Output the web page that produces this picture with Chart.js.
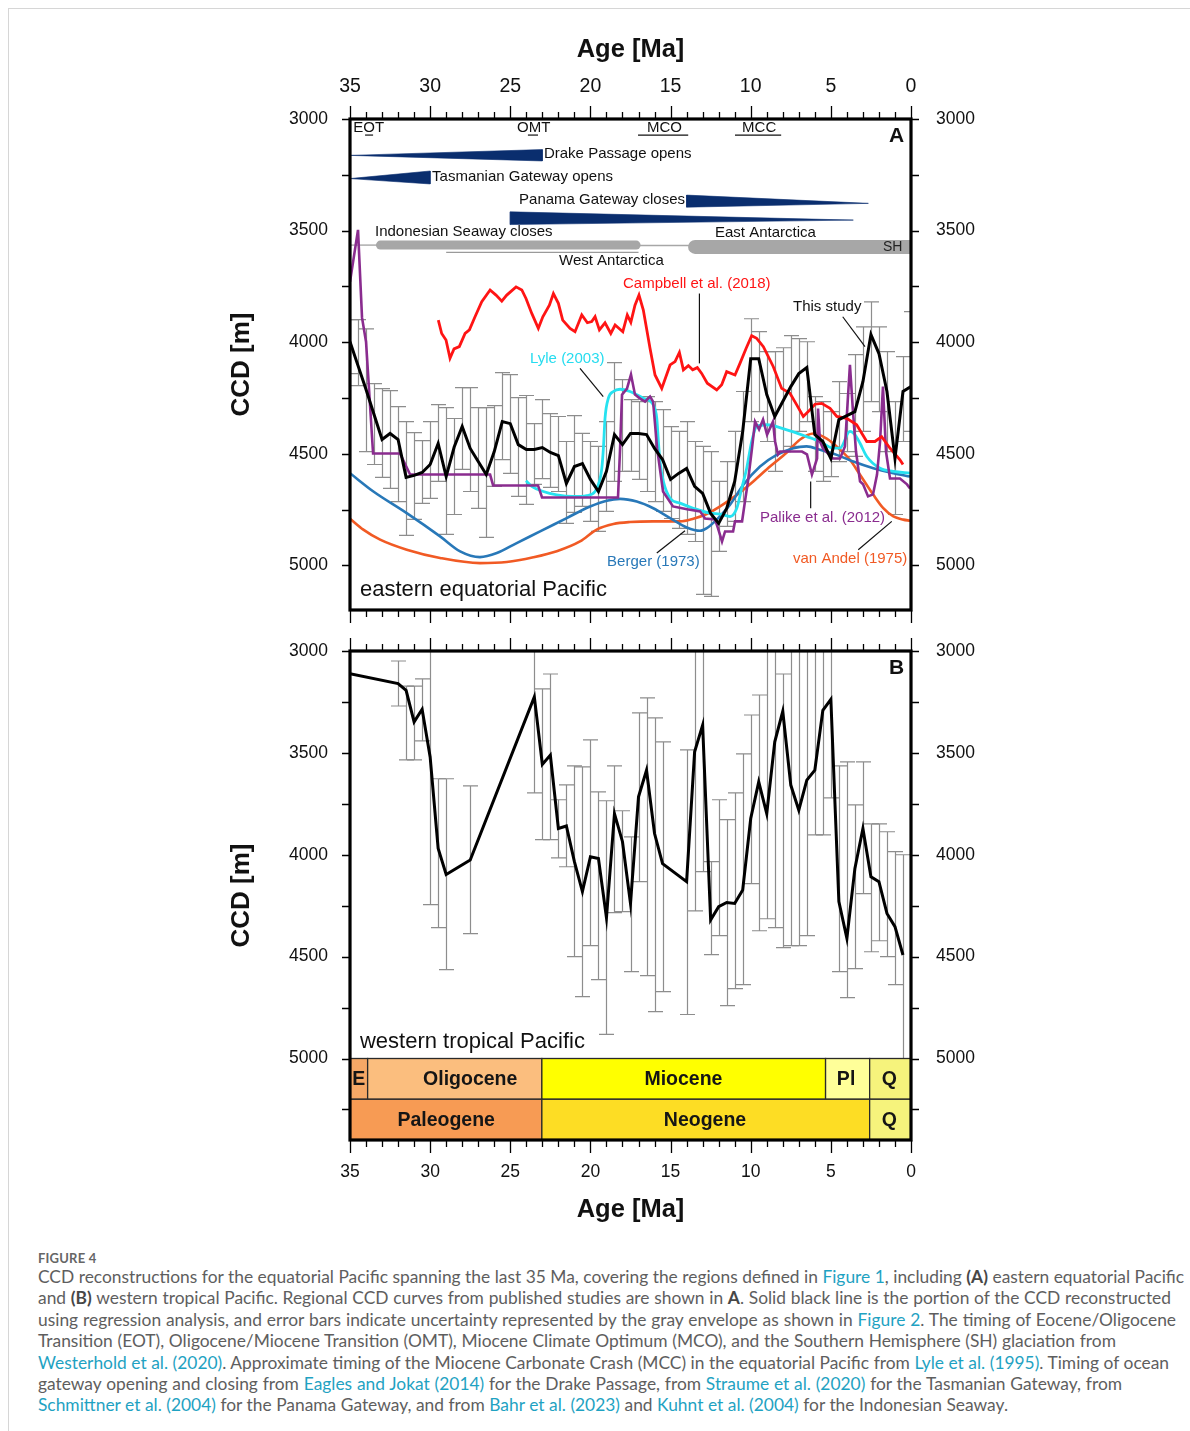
<!DOCTYPE html>
<html lang="en">
<head>
<meta charset="utf-8">
<title>CCD reconstructions, equatorial Pacific</title>
<script src="https://cdn.jsdelivr.net/npm/chart.js@4.4.1/dist/chart.umd.min.js"></script>
<style>
  html, body { margin: 0; padding: 0; background: #fff; }
  body { position: relative; width: 1190px; height: 1431px; overflow: hidden; }
  .sheet { position: absolute; left: 8px; top: 8px; width: 1200px; height: 1440px;
           border-left: 1px solid #d6d6d6; border-top: 1px solid #d6d6d6; }
  canvas { position: absolute; left: 0; }
  #panelA { top: 2px; }
  #panelB { top: 611px; }
  .caption { position: absolute; left: 38px; top: 1250px; font-family: Lato, 'Open Sans', sans-serif; color: #5e5e5e; }
  .caption .fig { font-size: 13px; font-weight: 700; line-height: 16px; color: #666; letter-spacing: 0.2px; }
  .caption .ln { white-space: nowrap; width: max-content; font-size: 16px; line-height: 21.4px; }
  .caption a { color: #1fa2c2; text-decoration: none; }
  .caption b { font-weight: 700; color: #474747; }
</style>
</head>
<body>
<div class="sheet"></div>
<canvas id="panelA" width="1190" height="648"></canvas>
<canvas id="panelB" width="1190" height="631"></canvas>
<div class="caption">
  <div class="fig">FIGURE 4</div>
  <div class="ln">CCD reconstructions for the equatorial Pacific spanning the last 35 Ma, covering the regions defined in <a>Figure 1</a>, including <b>(A)</b> eastern equatorial Pacific</div>
  <div class="ln">and <b>(B)</b> western tropical Pacific. Regional CCD curves from published studies are shown in <b>A</b>. Solid black line is the portion of the CCD reconstructed</div>
  <div class="ln">using regression analysis, and error bars indicate uncertainty represented by the gray envelope as shown in <a>Figure 2</a>. The timing of Eocene/Oligocene</div>
  <div class="ln">Transition (EOT), Oligocene/Miocene Transition (OMT), Miocene Climate Optimum (MCO), and the Southern Hemisphere (SH) glaciation from</div>
  <div class="ln"><a>Westerhold et al. (2020)</a>. Approximate timing of the Miocene Carbonate Crash (MCC) in the equatorial Pacific from <a>Lyle et al. (1995)</a>. Timing of ocean</div>
  <div class="ln">gateway opening and closing from <a>Eagles and Jokat (2014)</a> for the Drake Passage, from <a>Straume et al. (2020)</a> for the Tasmanian Gateway, from</div>
  <div class="ln"><a>Schmittner et al. (2004)</a> for the Panama Gateway, and from <a>Bahr et al. (2023)</a> and <a>Kuhnt et al. (2004)</a> for the Indonesian Seaway.</div>
</div>
<script>
// axis labels
const ageTicks = [35, 30, 25, 20, 15, 10, 5, 0];
const ccdTicks = [3000, 3500, 4000, 4500, 5000];

// ---- A: eastern equatorial Pacific, this study (0.5 Ma steps) ----
const studyAgeA = [35,34.5,34,33.5,33,32.5,32,31.5,31,30.5,30,29.5,29,28.5,28,27.5,27,26.5,26,25.5,25,24.5,24,23.5,23,22.5,22,21.5,21,20.5,20,19.5,19,18.5,18,17.5,17,16.5,16,15.5,15,14.5,14,13.5,13,12.5,12,11.5,11,10.5,10,9.5,9,8.5,8,7.5,7,6.5,6,5.5,5,4.5,4,3.5,3,2.5,2,1.5,1,0.5,0];
const studyCcdA = [3998,4105,4212,4324,4436,4409,4436,4606,4597,4584,4548,4454,4602,4470,4378,4476,4535,4593,4490,4356,4365,4459,4481,4481,4472,4494,4508,4633,4557,4544,4615,4669,4579,4414,4459,4409,4409,4414,4476,4526,4615,4588,4566,4646,4678,4767,4812,4745,4624,4400,4074,4074,4235,4333,4266,4199,4141,4114,4414,4445,4521,4347,4329,4311,4177,3966,4051,4221,4521,4221,4199];
const studyUpperA = [3899,3899,3940,4186,4208,4217,4289,4356,4405,4441,4356,4280,4293,4342,4204,4204,4293,4293,4284,4136,4145,4248,4239,4365,4257,4320,4333,4445,4329,4409,4445,4467,4356,4092,4168,4257,4266,4244,4266,4302,4378,4400,4356,4445,4467,4490,4624,4535,4400,4221,3895,3953,4042,4042,4025,3971,3984,3998,4244,4266,4311,4177,4230,4056,3931,3819,3931,4042,4266,4065,3863];
const studyLowerA = [4141,4195,4490,4548,4606,4655,4714,4866,4794,4722,4700,4624,4861,4772,4570,4669,4745,4875,4646,4526,4588,4691,4727,4637,4611,4651,4669,4812,4763,4736,4803,4848,4758,4624,4579,4579,4615,4669,4714,4758,4790,4834,4861,4893,5130,5139,4937,4825,4803,4714,4356,4311,4445,4579,4490,4467,4400,4356,4579,4624,4602,4535,4490,4512,4400,4266,4311,4490,4772,4445,4400];

// published regional curves
const campbellAge = [29.49,29.28,29.01,28.76,28.51,28.18,27.82,27.55,27.2,26.78,26.26,25.89,25.53,25.22,24.64,24.28,24.02,23.66,23.25,22.97,22.56,22.31,22.0,21.73,21.27,20.96,20.54,20.19,19.92,19.71,19.44,19.09,18.73,18.46,17.98,17.7,17.48,17.22,16.97,16.7,16.28,15.97,15.55,15.03,14.72,14.45,14.2,13.89,13.62,13.33,13.06,12.71,12.12,11.81,11.5,10.98,10.67,10.29,9.94,9.63,9.21,8.59,8.07,7.55,7.13,6.72,6.41,5.99,5.57,5.05,4.63,4.01,3.39,2.76,2.25,1.83,1.31,0.69,0.5];
const campbellCcd = [3901,3961,3990,4072,4030,4020,3961,3945,3886,3819,3766,3789,3816,3789,3752,3766,3804,3871,3938,3886,3834,3782,3826,3901,3938,3953,3878,3913,3908,3886,3945,3913,3961,3923,3953,3878,3911,3834,3789,3856,4028,4147,4207,4102,4087,4046,4124,4105,4124,4114,4140,4184,4214,4191,4132,4147,4095,4028,3971,3983,4020,4110,4207,4229,4281,4333,4311,4278,4274,4296,4333,4341,4370,4445,4445,4423,4475,4527,4548];
const lyleAge = [24.02,23.66,22.94,22.1,21.07,20.23,19.71,19.44,19.29,19.19,19.09,18.88,18.57,18.15,17.53,16.7,16.08,15.86,15.76,15.66,15.45,15.03,14.41,13.58,12.54,11.91,11.29,10.87,10.56,10.25,9.94,9.63,9.0,7.75,6.51,5.68,4.85,4.43,3.81,3.49,3.18,2.76,1.93,1.1,0.06];
const lyleCcd = [4621,4646,4669,4684,4691,4687,4669,4624,4565,4475,4341,4251,4221,4211,4221,4251,4281,4341,4445,4535,4624,4699,4721,4744,4766,4770,4781,4744,4654,4565,4445,4378,4370,4393,4423,4445,4475,4475,4400,4415,4453,4512,4565,4579,4587];
const palikeAge = [35,34.5,34.25,34,33.56,31.88,31.25,26.26,26.07,23.27,23.02,18.28,18.15,18.03,17.72,17.47,17.22,16.9,16.59,16.28,16.09,15.84,15.47,14.85,13.97,13.16,12.85,12.23,12.04,11.79,11.6,11.1,10.98,10.54,10.36,10.17,9.92,9.73,9.48,9.23,8.98,8.61,8.48,8.3,8.17,6.8,6.49,6.18,5.86,5.8,5.68,5.49,4.87,4.43,4.12,3.81,3.62,3.43,3.18,2.99,2.68,2.37,2.12,1.93,1.75,1.56,1.31,0.69,0.25,0.06];
const palikeCcd = [3729,3497,3890,3998,4499,4499,4593,4593,4642,4642,4696,4696,4476,4235,4208,4145,4235,4253,4266,4244,4266,4476,4669,4736,4749,4758,4790,4794,4834,4893,4848,4848,4803,4803,4714,4624,4476,4356,4391,4347,4414,4356,4445,4503,4490,4490,4503,4593,4521,4297,4445,4476,4521,4521,4467,4101,4311,4490,4624,4637,4691,4682,4593,4445,4199,4490,4611,4611,4637,4655];
const bergerAge = [35,33.54,31.46,29.38,28.13,26.89,25.84,24.6,23.14,21.48,20.02,18.98,18.15,17.11,16.08,15.03,13.99,13.16,12.74,12.12,11.29,10.46,9.42,8.38,7.34,6.51,5.68,4.63,3.6,2.35,1.1,0.06];
const bergerCcd = [4587,4669,4766,4870,4937,4963,4945,4900,4848,4788,4736,4710,4702,4714,4744,4788,4830,4845,4833,4795,4728,4639,4557,4505,4475,4467,4482,4505,4535,4565,4587,4602];
const andelAge = [35,34.17,33.12,31.46,29.38,26.89,25.22,23.56,22.1,20.65,19.61,18.57,17.53,16.08,14.41,13.58,12.74,11.91,10.87,9.84,8.8,7.75,6.92,6.09,5.26,4.43,3.81,3.18,2.35,1.73,1.1,0.48,0.06];
const andelCcd = [4791,4840,4885,4930,4967,4990,4985,4964,4937,4893,4840,4815,4806,4803,4803,4791,4770,4736,4684,4624,4557,4494,4436,4409,4432,4481,4527,4594,4684,4744,4781,4795,4800];

// ocean gateways: narrow tip and wide end of each wedge
const gatewayTipAge = [35, 35, 2.66, 3.6];
const gatewayTipCcd = [3163, 3267, 3378, 3453];
const gatewayEndAge = [23, 30, 14, 25];
const gatewayEndTop = [3137, 3233, 3341, 3416];
const gatewayEndBottom = [3188, 3291, 3395, 3473];

// Antarctic ice: thin line, West Antarctica bar, gap, East Antarctica bar, lower line
const iceFrom = [35, 33.1, 17.15, 13.47, 29];
const iceTo = [33.1, 17.15, 13.47, 0, 17];
const iceCcd = [3565, 3565, 3567, 3573, 3598];

// ---- B: western tropical Pacific ----
const studyAgeB = [35,32,31.5,31,30.5,30,29.5,29,27.5,23.5,23,22.5,22,21.5,21,20.5,20,19.5,19,18.5,18,17.5,17,16.5,16,15.5,14,13.5,13,12.5,12,11.5,11,10.5,10,9.5,9,8.5,8,7.5,7,6.5,6,5.5,5,4.5,4,3.5,3,2.5,2,1.5,1,0.5];
const studyCcdB = [3111,3160,3193,3348,3286,3520,3969,4097,4026,3225,3557,3511,3871,3859,4034,4181,4010,4018,4309,3798,3936,4239,3716,3585,3896,4044,4132,3495,3364,4320,4255,4234,4239,4173,3822,3642,3798,3446,3296,3658,3781,3634,3585,3291,3237,4230,4410,4067,3871,4108,4132,4288,4353,4492];
const studyUpperB = [3111,3049,3172,3172,3137,2950,3627,3627,3662,2950,3186,3113,3730,3657,3564,3569,3436,3691,3735,3564,3784,3912,3304,3230,3328,3446,3485,2950,2950,4034,3730,3828,3696,3505,3314,3216,2950,2950,3113,2950,2950,2950,2950,2950,2950,3564,3544,3755,3544,3848,3848,3887,3985,4000];
const studyLowerB = [3111,3270,3534,3534,3441,4245,4358,4564,4387,3696,3926,3926,4015,4059,4500,4696,4446,4613,4882,4284,4279,4574,4132,4593,4770,4672,4784,4275,4083,4490,4397,4740,4657,4637,4142,4373,4314,4358,4456,4446,4446,4397,3902,3902,3721,4574,4701,4559,4191,4476,4422,4500,4637,5064];

// geological time scale (Ma)
const epochNames = ['E', 'Oligocene', 'Miocene', 'Pl', 'Q'];
const epochStart = [35, 33.9, 23.03, 5.33, 2.58];
const epochEnd = [33.9, 23.03, 5.33, 2.58, 0];
const periodNames = ['Paleogene', 'Neogene', 'Q'];
const periodStart = [35, 23.03, 2.58];
const periodEnd = [23.03, 2.58, 0];

const FONT = "'Liberation Sans', Arial, Helvetica, sans-serif";
Chart.defaults.font.family = FONT;
Chart.defaults.color = '#111';

const pts = (xs, ys) => xs.map((x, i) => ({x, y: ys[i]}));

function curve(label, data, color, width, extra) {
  return Object.assign({
    label, data, borderColor: color, borderWidth: width,
    pointRadius: 0, fill: false, tension: 0
  }, extra || {});
}

// outward tick marks every 1 Ma / 250 m and the heavy frame
const frameTicks = {
  id: 'frameTicks',
  afterDraw(chart, args, opts) {
    const {ctx, chartArea: a, scales: {x, y}} = chart;
    ctx.save();
    ctx.strokeStyle = '#000';
    ctx.lineWidth = 1.3;
    ctx.beginPath();
    for (let age = 0; age <= 35; age++) {
      const px = Math.round(x.getPixelForValue(age)) + 0.5;
      const len = age % 5 === 0 ? 13 : 7;
      ctx.moveTo(px, a.top); ctx.lineTo(px, a.top - len);
      ctx.moveTo(px, a.bottom); ctx.lineTo(px, a.bottom + len);
    }
    for (let d = 3000; d <= opts.lastTick; d += 250) {
      const py = Math.round(y.getPixelForValue(d)) + 0.5;
      ctx.moveTo(a.left, py); ctx.lineTo(a.left - 8, py);
      ctx.moveTo(a.right, py); ctx.lineTo(a.right + 8, py);
    }
    ctx.stroke();
    ctx.lineWidth = 3.2;
    ctx.strokeRect(a.left, a.top, a.right - a.left, a.bottom - a.top);
    ctx.restore();
  }
};

// gray uncertainty bars with caps
const errorBars = {
  id: 'errorBars',
  beforeDatasetsDraw(chart, args, opts) {
    const {ctx, chartArea: a, scales: {x, y}} = chart;
    ctx.save();
    ctx.beginPath();
    ctx.rect(a.left, a.top, a.right - a.left, a.bottom - a.top);
    ctx.clip();
    ctx.strokeStyle = '#8d8d8d';
    ctx.lineWidth = 1.2;
    opts.ages.forEach((age, i) => {
      if (opts.upper[i] === opts.lower[i]) return;
      const px = Math.round(x.getPixelForValue(age)) + 0.5;
      const t = y.getPixelForValue(opts.upper[i]);
      const b = y.getPixelForValue(opts.lower[i]);
      ctx.beginPath();
      ctx.moveTo(px, t); ctx.lineTo(px, b);
      ctx.moveTo(px - 7.5, t); ctx.lineTo(px + 7.5, t);
      ctx.moveTo(px - 7.5, b); ctx.lineTo(px + 7.5, b);
      ctx.stroke();
    });
    ctx.restore();
  }
};

// time scale strip below the B curve
const timeScale = {
  id: 'timeScale',
  afterDatasetsDraw(chart, args, opts) {
    if (!opts.rows) return;
    const {ctx, scales: {x, y}} = chart;
    ctx.save();
    opts.rows.forEach(row => {
      const top = y.getPixelForValue(row.top);
      const bottom = y.getPixelForValue(row.bottom);
      row.names.forEach((name, i) => {
        const x0 = x.getPixelForValue(row.start[i]);
        const x1 = x.getPixelForValue(row.end[i]);
        ctx.fillStyle = row.colors[i];
        ctx.fillRect(x0, top, x1 - x0, bottom - top);
        ctx.strokeStyle = '#2a2a2a';
        ctx.lineWidth = 1.3;
        ctx.strokeRect(x0, top, x1 - x0, bottom - top);
        ctx.fillStyle = '#151515';
        ctx.font = 'bold 19.5px ' + FONT;
        ctx.textAlign = 'center';
        ctx.textBaseline = 'middle';
        ctx.fillText(name, x.getPixelForValue(row.labelAt[i]), (top + bottom) / 2 + 1);
      });
    });
    ctx.restore();
  }
};

// text labels and leader lines placed in age/depth units
const notes = {
  id: 'notes',
  afterDatasetsDraw(chart, args, opts) {
    const {ctx, scales: {x, y}} = chart;
    ctx.save();
    (opts.segments || []).forEach(s => {
      ctx.beginPath();
      ctx.strokeStyle = s.color || '#111';
      ctx.lineWidth = s.width || 1.2;
      ctx.moveTo(x.getPixelForValue(s.from[0]), y.getPixelForValue(s.from[1]));
      ctx.lineTo(x.getPixelForValue(s.to[0]), y.getPixelForValue(s.to[1]));
      ctx.stroke();
    });
    (opts.labels || []).forEach(l => {
      ctx.font = (l.weight || 'normal') + ' ' + (l.size || 15) + 'px ' + FONT;
      ctx.fillStyle = l.color || '#111';
      ctx.textAlign = l.align || 'left';
      ctx.textBaseline = 'middle';
      ctx.fillText(l.text, x.getPixelForValue(l.age), y.getPixelForValue(l.ccd));
    });
    ctx.restore();
  }
};

function makeScales(o) {
  const hidden = {display: false, drawTicks: false};
  const ageAxis = (position, showLabels, height, title) => ({
    type: 'linear', position, min: 0, max: 35, reverse: true,
    grid: hidden, border: {display: false},
    afterBuildTicks: s => { s.ticks = ageTicks.map(v => ({value: v})); },
    ticks: {
      display: showLabels, autoSkip: false, maxRotation: 0,
      padding: position === 'top' ? 21 : 22,
      font: {size: position === 'top' ? 19.5 : 17.5}, color: '#111',
      callback: v => String(v)
    },
    title: title || {display: false},
    afterFit: s => { s.height = height; }
  });
  const ccdAxis = (position, width, title) => ({
    type: 'linear', position, min: 3000, max: o.yMax, reverse: true,
    grid: hidden, border: {display: false},
    afterBuildTicks: s => { s.ticks = ccdTicks.map(v => ({value: v})); },
    ticks: {
      autoSkip: false, padding: position === 'left' ? 22 : 25,
      font: {size: 17.5}, color: '#111', callback: v => String(v)
    },
    title: title || {display: false},
    afterFit: s => { s.width = width; }
  });
  const ageTitle = pad => ({
    display: true, text: 'Age [Ma]', color: '#111',
    font: {size: 25.5, weight: 'bold'}, padding: pad
  });
  return {
    x: ageAxis('bottom', o.bottomLabels, o.bottomH, o.bottomLabels ? ageTitle({top: 0, bottom: 17}) : null),
    xTop: ageAxis('top', o.topLabels, o.topH, o.topLabels ? ageTitle({top: 33, bottom: 0}) : null),
    y: ccdAxis('left', 350, {
      display: true, text: 'CCD [m]', color: '#111',
      font: {size: 26, weight: 'bold'}, padding: {top: 226, bottom: 0}
    }),
    yRight: ccdAxis('right', 1190 - 911)
  };
}

const baseOptions = {
  responsive: false,
  maintainAspectRatio: false,
  devicePixelRatio: 1,
  animation: false,
  events: [],
  layout: {padding: 0}
};

// ---------- panel A ----------
const gatewaySets = gatewayTipAge.map((tip, i) => ({
  data: [
    {x: tip, y: gatewayTipCcd[i]},
    {x: gatewayEndAge[i], y: gatewayEndTop[i]},
    {x: gatewayEndAge[i], y: gatewayEndBottom[i]},
    {x: tip, y: gatewayTipCcd[i]}
  ],
  borderColor: '#0a2e6e', backgroundColor: '#0a2e6e', borderWidth: 0.6,
  pointRadius: 0, fill: 'shape', tension: 0, clip: 0, order: 9
}));
const iceWidths = [1.4, 9, 1.6, 14, 1.2];
const iceCaps = ['butt', 'round', 'butt', 'round', 'butt'];
const iceSets = iceFrom.map((from, i) => ({
  data: [{x: from, y: iceCcd[i]}, {x: iceTo[i], y: iceCcd[i]}],
  borderColor: i === 4 ? '#9a9a9a' : '#a7a7a7', borderWidth: iceWidths[i],
  borderCapStyle: iceCaps[i], pointRadius: 0, fill: false, clip: 0, order: 8
}));

new Chart(document.getElementById('panelA'), {
  type: 'line',
  data: {
    datasets: [
      curve('This study', pts(studyAgeA, studyCcdA), '#000', 3, {order: 0}),
      curve('Campbell et al. (2018)', pts(campbellAge, campbellCcd), '#ff1414', 2.8, {order: 1}),
      curve('Lyle (2003)', pts(lyleAge, lyleCcd), '#26e2f0', 2.8, {order: 3, cubicInterpolationMode: 'monotone'}),
      curve('Palike et al. (2012)', pts(palikeAge, palikeCcd), '#8a2c8f', 2.6, {order: 2}),
      curve('Berger (1973)', pts(bergerAge, bergerCcd), '#2878b8', 2.6, {order: 4, cubicInterpolationMode: 'monotone'}),
      curve('van Andel (1975)', pts(andelAge, andelCcd), '#f15a24', 2.6, {order: 5, cubicInterpolationMode: 'monotone'}),
      ...iceSets,
      ...gatewaySets
    ]
  },
  options: Object.assign({}, baseOptions, {
    scales: makeScales({yMax: 5200, topH: 117, bottomH: 40, topLabels: true, bottomLabels: false}),
    plugins: {
      legend: {display: false},
      tooltip: {enabled: false},
      frameTicks: {lastTick: 5000},
      errorBars: {ages: studyAgeA, upper: studyUpperA, lower: studyLowerA},
      notes: {
        segments: [
          {from: [34.06, 3072], to: [33.56, 3072]},
          {from: [23.9, 3072], to: [23.27, 3072]},
          {from: [17.03, 3072], to: [13.9, 3072]},
          {from: [10.98, 3072], to: [8.1, 3072]},
          {from: [20.65, 4117], to: [19.2, 4244]},
          {from: [13.2, 3782], to: [13.2, 4095]},
          {from: [4.26, 3886], to: [2.87, 4020]},
          {from: [15.86, 4945], to: [14.1, 4845]},
          {from: [6.26, 4624], to: [6.26, 4744]},
          {from: [3.29, 4930], to: [1.2, 4803]}
        ],
        labels: [
          {text: 'EOT', age: 34.8, ccd: 3040},
          {text: 'OMT', age: 24.58, ccd: 3040},
          {text: 'MCO', age: 16.47, ccd: 3040},
          {text: 'MCC', age: 10.54, ccd: 3040},
          {text: 'A', age: 0.42, ccd: 3078, align: 'right', weight: 'bold', size: 21},
          {text: 'Drake Passage opens', age: 22.9, ccd: 3157},
          {text: 'Tasmanian Gateway opens', age: 29.88, ccd: 3259},
          {text: 'Panama Gateway closes', age: 14.1, ccd: 3362, align: 'right'},
          {text: 'Indonesian Seaway closes', age: 33.44, ccd: 3506},
          {text: 'East Antarctica', age: 12.23, ccd: 3510},
          {text: 'SH', age: 1.75, ccd: 3575, size: 14, color: '#222'},
          {text: 'West Antarctica', age: 21.96, ccd: 3635},
          {text: 'Campbell et al. (2018)', age: 17.97, ccd: 3738, color: '#ff1414'},
          {text: 'This study', age: 7.36, ccd: 3841},
          {text: 'Lyle (2003)', age: 23.77, ccd: 4074, color: '#26dcef'},
          {text: 'Berger (1973)', age: 18.96, ccd: 4986, color: '#2878b8'},
          {text: 'Palike et al. (2012)', age: 9.42, ccd: 4785, color: '#8a2c8f'},
          {text: 'van Andel (1975)', age: 7.36, ccd: 4973, color: '#f15a24'},
          {text: 'eastern equatorial Pacific', age: 34.38, ccd: 5112, size: 22}
        ]
      }
    }
  }),
  plugins: [errorBars, notes, frameTicks]
});

// ---------- panel B ----------
new Chart(document.getElementById('panelB'), {
  type: 'line',
  data: {
    datasets: [
      curve('This study', pts(studyAgeB, studyCcdB), '#000', 3, {order: 0})
    ]
  },
  options: Object.assign({}, baseOptions, {
    scales: makeScales({yMax: 5400, topH: 40, bottomH: 102, topLabels: false, bottomLabels: true}),
    plugins: {
      legend: {display: false},
      tooltip: {enabled: false},
      frameTicks: {lastTick: 5250},
      errorBars: {ages: studyAgeB, upper: studyUpperB, lower: studyLowerB},
      timeScale: {
        rows: [
          {names: epochNames, start: epochStart, end: epochEnd, top: 5000, bottom: 5200,
           labelAt: [34.45, 27.5, 14.2, 4.05, 1.35],
           colors: ['#f6a866', '#fbbe7e', '#ffff00', '#ffff99', '#f6f37c']},
          {names: periodNames, start: periodStart, end: periodEnd, top: 5200, bottom: 5400,
           labelAt: [29.0, 12.85, 1.35],
           colors: ['#f79b54', '#fddd24', '#f6f37c']}
        ]
      },
      notes: {
        labels: [
          {text: 'B', age: 0.42, ccd: 3083, align: 'right', weight: 'bold', size: 21},
          {text: 'western tropical Pacific', age: 34.38, ccd: 4917, size: 22}
        ]
      }
    }
  }),
  plugins: [errorBars, timeScale, notes, frameTicks]
});

// caption: one font size for all lines, small word-spacing tweaks per line
const captionWidths = [1146, 1133, 1138, 1078, 1131, 1084, 970];
const lines = Array.from(document.querySelectorAll('.caption .ln'));
const w0 = lines[0].getBoundingClientRect().width;
const size = 16 * captionWidths[0] / w0;
lines.forEach((el, i) => {
  el.style.fontSize = size.toFixed(2) + 'px';
  const w = el.getBoundingClientRect().width;
  const gaps = (el.textContent.match(/ /g) || []).length;
  if (gaps) el.style.wordSpacing = ((captionWidths[i] - w) / gaps).toFixed(2) + 'px';
});
</script>
</body>
</html>
